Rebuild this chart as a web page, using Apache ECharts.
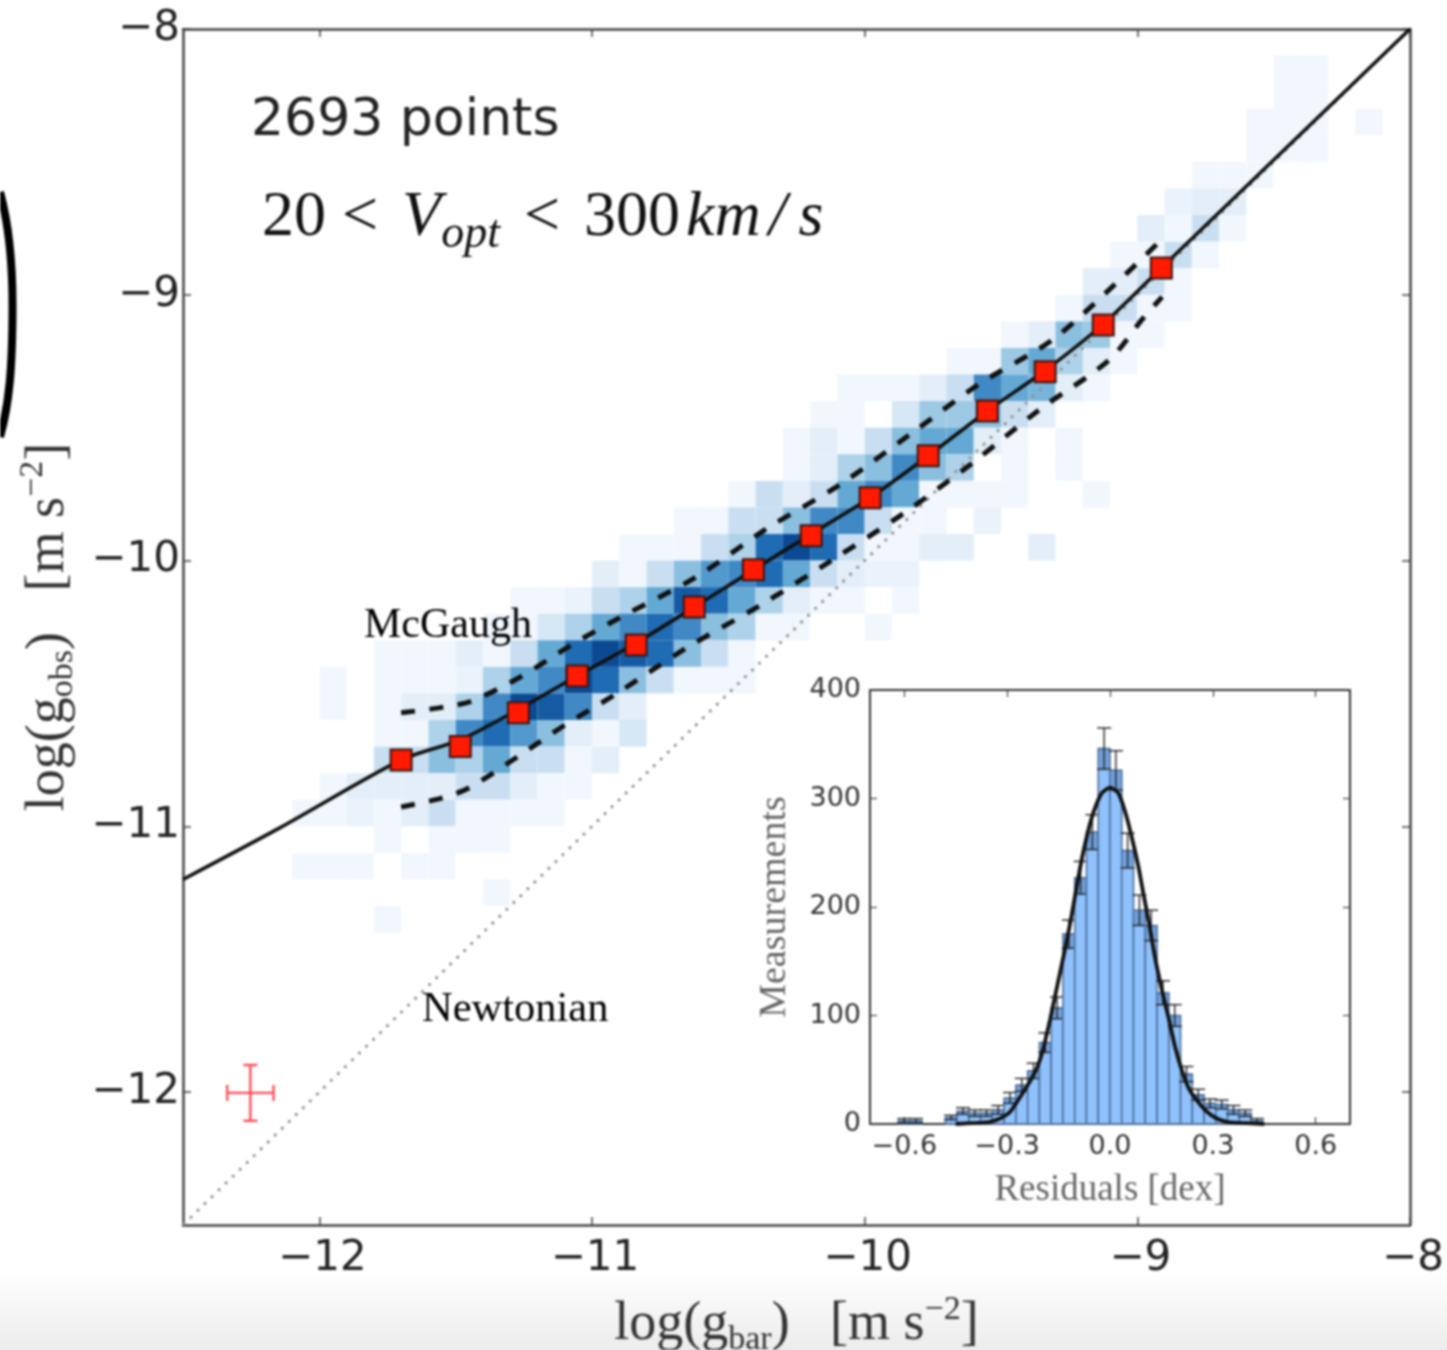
<!DOCTYPE html>
<html>
<head>
<meta charset="utf-8">
<style>
  html, body { margin: 0; padding: 0; width: 1447px; height: 1350px; overflow: hidden;
    background: linear-gradient(to bottom, #fff 0, #fff 1270px, #ececec 1350px); }
  #chart { width: 1447px; height: 1350px; filter: blur(0.8px); }
</style>
<script src="https://cdn.jsdelivr.net/npm/echarts@6/dist/echarts.min.js"></script>
</head>
<body>
<div id="chart"></div>
<script>
var mainTicks = [-12, -11, -10, -9, -8];
var insetXTicks = [-0.6, -0.3, 0, 0.3, 0.6];
var insetYTicks = [0, 100, 200, 300, 400];

// density cells, one row per 0.1 dex: [bottom of row, left of first cell, levels]
var heatRows = [
  [-8.2, -8.5, [1, 1]],
  [-8.3, -8.5, [1, 1]],
  [-8.4, -8.6, [1, 1, 1, 0, 1]],
  [-8.5, -8.6, [1, 1, 1]],
  [-8.6, -8.8, [1, 1, 1]],
  [-8.7, -8.9, [1.5, 2, 2]],
  [-8.8, -9.0, [2, 1, 3, 1]],
  [-8.9, -9.1, [1, 1, 3, 1]],
  [-9.0, -9.2, [2, 2, 3, 1]],
  [-9.1, -9.3, [1, 3, 3, 1, 1]],
  [-9.2, -9.5, [1, 2, 5, 4.5, 1, 1]],
  [-9.3, -9.7, [1, 1, 4.5, 6, 4, 2, 1]],
  [-9.4, -10.1, [1, 1, 1, 2, 3, 7, 6, 5.5, 2, 1]],
  [-9.5, -10.2, [1, 1, 0, 2.5, 4.5, 4.5, 5, 3, 2]],
  [-9.6, -10.3, [1, 2, 1, 3, 5, 6, 6, 2, 1, 0, 1]],
  [-9.7, -10.3, [1, 2, 4, 5, 7, 5, 4, 0, 1, 0, 1]],
  [-9.8, -10.5, [1, 3, 2, 3, 6, 7, 6, 1, 1, 1, 1, 0, 0, 1]],
  [-9.9, -10.7, [1, 1, 3, 3, 5, 7, 7, 3, 1, 1, 0, 1.5]],
  [-10.0, -10.9, [1, 1, 1, 3, 4, 8, 9, 8, 3, 1, 1, 2, 2, 0, 0, 2]],
  [-10.1, -11.0, [2, 1, 3, 5, 6.5, 7, 8, 6, 3, 2, 1.5, 1.5]],
  [-10.2, -11.3, [1, 1, 1.5, 3, 4, 6, 8.5, 8, 6, 4, 2, 1, 1, 0, 1]],
  [-10.3, -11.4, [1, 1, 2.5, 4, 6, 7, 8, 7, 5, 4, 1, 1, 0, 0, 1]],
  [-10.4, -11.8, [1, 1, 1, 2, 1, 3, 6, 8, 9, 8.5, 8, 5, 3, 1]],
  [-10.5, -12.0, [1, 0, 1, 1, 1, 1.5, 4, 6, 7, 9, 8, 5, 3, 1, 1, 1]],
  [-10.6, -12.0, [1, 0, 1, 2, 2, 4, 7, 9, 8.5, 7, 3, 2]],
  [-10.7, -11.8, [1, 1, 4, 7, 8, 6.5, 5, 2, 1, 2.5]],
  [-10.8, -11.8, [3, 3, 5, 4, 6, 3, 3, 1, 2]],
  [-10.9, -12.0, [1, 2, 2, 2, 2, 3, 3, 2, 1, 1]],
  [-11.0, -12.1, [1, 1, 1.5, 1, 2, 3, 1, 1, 1, 1]],
  [-11.1, -11.8, [1, 0, 1, 1, 1]],
  [-11.2, -12.1, [1, 1, 1, 0, 1, 1]],
  [-11.3, -11.4, [1]],
  [-11.4, -11.8, [1]]
];
var heatPalette = ['#ffffff', '#f1f7fd', '#e3eef8', '#c9dff1', '#aed2e9', '#8bbfdf', '#64a9d4', '#4089c5', '#1f6cb4', '#0b4a93'];

var binnedX = [-11.70, -11.483, -11.27, -11.054, -10.838, -10.625, -10.408, -10.196, -9.98, -9.767, -9.55, -9.338, -9.125, -8.912];
var binnedY = [-10.75, -10.70, -10.573, -10.434, -10.318, -10.175, -10.035, -9.907, -9.764, -9.606, -9.437, -9.29, -9.114, -8.899];

var relationX = [-12.5, -12.147, -11.70, -11.483, -11.27, -11.054, -10.838, -10.625, -10.408, -10.196, -9.98, -9.767, -9.55, -9.338, -9.125, -8.912, -8];
var relationY = [-11.2, -11.007, -10.75, -10.675, -10.56, -10.434, -10.31, -10.175, -10.035, -9.90, -9.764, -9.606, -9.437, -9.285, -9.11, -8.899, -8];

var upperX = [-11.70, -11.542, -11.439, -11.256, -11.076, -10.90, -10.618, -10.361, -10.093, -9.836, -9.58, -9.312, -9.077, -8.92];
var upperY = [-10.573, -10.551, -10.528, -10.434, -10.318, -10.216, -10.062, -9.881, -9.716, -9.527, -9.336, -9.170, -8.956, -8.801];
var lowerX = [-11.70, -11.549, -11.45, -11.274, -11.098, -10.918, -10.654, -10.387, -10.119, -9.855, -9.605, -9.36, -9.103, -8.978, -8.909];
var lowerY = [-10.927, -10.893, -10.855, -10.739, -10.618, -10.506, -10.329, -10.171, -9.998, -9.821, -9.633, -9.433, -9.245, -9.087, -9.008];

var newtonX = [-12.5, -8];
var newtonY = [-12.5, -8];
var errorCross = [-12.253, -12.003, 0.085, 0.105];

// inset histogram
var binLeft = [-0.6174, -0.5831, -0.4802, -0.4459, -0.4116, -0.3773, -0.343, -0.3087, -0.2744, -0.2401, -0.2058, -0.1715, -0.1372, -0.1029, -0.0686, -0.0343, 0, 0.0343, 0.0686, 0.1029, 0.1372, 0.1715, 0.2058, 0.2401, 0.2744, 0.3087, 0.343, 0.3773, 0.4116];
var binCount = [3, 3, 6, 12, 10, 10, 13, 24, 36, 49, 75, 107, 175, 227, 269, 346, 326, 252, 197, 183, 121, 100, 46, 27, 19, 18, 13, 10, 3];
var binError = [2, 2, 2, 3, 3, 3, 4, 5, 6, 7, 9, 10, 13, 15, 16, 19, 18, 16, 14, 14, 11, 10, 7, 5, 4, 4, 4, 3, 2];
var binWidth = 0.0343;
var fitX = [-0.45, -0.389, -0.35, -0.321, -0.292, -0.262, -0.238, -0.214, -0.194, -0.175, -0.156, -0.136, -0.115, -0.097, -0.083, -0.063, -0.044, -0.024, 0, 0.024, 0.044, 0.063, 0.083, 0.097, 0.115, 0.131, 0.151, 0.17, 0.19, 0.209, 0.228, 0.248, 0.277, 0.306, 0.34, 0.379, 0.45];
var fitY = [0, 1, 2, 5, 11, 25, 37, 51, 70, 96, 124, 154, 187, 219, 243, 271, 291, 305, 310, 305, 288, 265, 237, 213, 183, 154, 124, 99, 71, 50, 34, 24, 13, 6, 2, 1, 0];

function zip(a, b) {
  return a.map(function (v, i) { return [v, b[i]]; });
}

var heatCells = [];
heatRows.forEach(function (row) {
  row[2].forEach(function (level, i) {
    if (level > 0) heatCells.push([Math.round((row[1] + i * 0.1) * 10) / 10, row[0], level]);
  });
});

var serif = '"Liberation Serif", serif';
var sans = '"DejaVu Sans", sans-serif';

function minus(v) {
  return String(v).replace('-', '\u2212');
}
function minusFixed(v) {
  return v.toFixed(1).replace('-', '\u2212');
}

function titleRich() {
  return {
    a: { fontFamily: serif, fontSize: 54, color: '#333', lineHeight: 64, verticalAlign: 'middle' },
    sub: { fontFamily: serif, fontSize: 34, color: '#333', lineHeight: 34, verticalAlign: 'bottom' },
    sup: { fontFamily: serif, fontSize: 34, color: '#333', lineHeight: 34, verticalAlign: 'top' }
  };
}

function mainAxis(position, ticks, showLabel, name) {
  var ax = {
    type: 'value',
    gridIndex: 0,
    position: position,
    min: -12.5,
    max: -8,
    splitLine: { show: false },
    axisLine: { onZero: false, lineStyle: { color: '#444', width: 2.5 } },
    axisTick: { inside: true, length: 8, customValues: ticks, lineStyle: { color: '#444', width: 1.5 } },
    axisLabel: {
      show: showLabel,
      customValues: ticks,
      formatter: minus,
      fontFamily: sans,
      fontSize: 42,
      color: '#222',
      margin: position === 'left' ? 3 : 13,
      padding: position === 'left' ? 0 : [0, 0, 0, 6]
    }
  };
  if (name) {
    ax.name = name;
    ax.nameLocation = 'middle';
    ax.nameTextStyle = { rich: titleRich() };
  }
  return ax;
}

function insetAxis(position, min, max, ticks, showLabel, fmt, name) {
  var ax = {
    type: 'value',
    gridIndex: 1,
    position: position,
    min: min,
    max: max,
    splitLine: { show: false },
    axisLine: { onZero: false, lineStyle: { color: '#333', width: 2 } },
    axisTick: { inside: true, length: 7, customValues: ticks, lineStyle: { color: '#444', width: 1.2 } },
    axisLabel: {
      show: showLabel,
      customValues: ticks,
      formatter: fmt,
      fontFamily: sans,
      fontSize: 27,
      color: '#333',
      margin: 9
    }
  };
  if (name) {
    ax.name = name;
    ax.nameLocation = 'middle';
    ax.nameTextStyle = { fontFamily: serif, fontSize: 37, color: '#666' };
  }
  return ax;
}

var xMain = mainAxis('bottom', mainTicks, true, '{a|log(g}{sub|bar}{a|)   [m s}{sup|\u22122}{a|]}');
xMain.nameGap = 68;
var yMain = mainAxis('left', mainTicks, true, '{a|log(g}{sub|obs}{a|)   [m s}{sup|\u22122}{a|]}');
yMain.nameGap = 98;
var xInset = insetAxis('bottom', -0.7, 0.7, insetXTicks, true, minusFixed, 'Residuals [dex]');
xInset.nameGap = 48;
var yInset = insetAxis('left', 0, 400, insetYTicks, true, String, 'Measurements');
yInset.nameGap = 76;
yInset.nameTextStyle.fontSize = 38;

var option = {
  backgroundColor: 'transparent',
  animation: false,
  grid: [
    { left: 183, top: 29, width: 1227, height: 1196, outerBoundsMode: 'none' },
    { left: 870, top: 690, width: 480, height: 434, outerBoundsMode: 'none' }
  ],
  xAxis: [
    xMain,
    mainAxis('top', mainTicks, false),
    xInset,
    insetAxis('top', -0.7, 0.7, insetXTicks, false)
  ],
  yAxis: [
    yMain,
    mainAxis('right', mainTicks, false),
    yInset,
    insetAxis('right', 0, 400, insetYTicks, false)
  ],
  visualMap: {
    show: false,
    seriesIndex: 0,
    dimension: 2,
    min: 0,
    max: 9,
    inRange: { color: heatPalette }
  },
  series: [
    {
      type: 'custom',
      xAxisIndex: 0,
      yAxisIndex: 0,
      z: 1,
      data: heatCells,
      encode: { x: 0, y: 1 },
      renderItem: function (params, api) {
        var a = api.coord([api.value(0), api.value(1)]);
        var b = api.coord([api.value(0) + 0.1, api.value(1) + 0.1]);
        return {
          type: 'rect',
          shape: { x: a[0], y: b[1], width: b[0] - a[0], height: a[1] - b[1] },
          style: { fill: api.visual('color') }
        };
      }
    },
    {
      type: 'line',
      xAxisIndex: 0,
      yAxisIndex: 0,
      z: 2,
      symbol: 'none',
      data: zip(newtonX, newtonY),
      lineStyle: { color: '#8f8f8f', width: 2.8, type: [2.8, 7] }
    },
    {
      type: 'line',
      xAxisIndex: 0,
      yAxisIndex: 0,
      z: 3,
      symbol: 'none',
      smooth: 0.25,
      data: zip(relationX, relationY),
      lineStyle: { color: '#111', width: 3.6 }
    },
    {
      type: 'line',
      xAxisIndex: 0,
      yAxisIndex: 0,
      z: 3,
      symbol: 'none',
      smooth: 0.3,
      data: zip(upperX, upperY),
      lineStyle: { color: '#111', width: 5, type: [14, 14.5] }
    },
    {
      type: 'line',
      xAxisIndex: 0,
      yAxisIndex: 0,
      z: 3,
      symbol: 'none',
      smooth: 0.3,
      data: zip(lowerX, lowerY),
      lineStyle: { color: '#111', width: 5, type: [14, 14.5] }
    },
    {
      type: 'scatter',
      xAxisIndex: 0,
      yAxisIndex: 0,
      z: 4,
      symbol: 'rect',
      symbolSize: 21,
      data: zip(binnedX, binnedY),
      itemStyle: { color: '#ff1a00', borderColor: '#3a1410', borderWidth: 2, opacity: 1 }
    },
    {
      // error cross, bottom left
      type: 'custom',
      xAxisIndex: 0,
      yAxisIndex: 0,
      z: 4,
      data: [errorCross],
      renderItem: function (params, api) {
        var x = api.value(0), y = api.value(1), dx = api.value(2), dy = api.value(3);
        var c = api.coord([x, y]), l = api.coord([x - dx, y]), r = api.coord([x + dx, y]);
        var t = api.coord([x, y + dy]), b = api.coord([x, y - dy]);
        var st = { stroke: '#ff4d57', lineWidth: 2.4 };
        function seg(x1, y1, x2, y2) {
          return { type: 'line', shape: { x1: x1, y1: y1, x2: x2, y2: y2 }, style: st };
        }
        return {
          type: 'group',
          children: [
            seg(l[0], c[1], r[0], c[1]),
            seg(c[0], t[1], c[0], b[1]),
            seg(l[0], c[1] - 8, l[0], c[1] + 8),
            seg(r[0], c[1] - 8, r[0], c[1] + 8),
            seg(c[0] - 7, t[1], c[0] + 7, t[1]),
            seg(c[0] - 7, b[1], c[0] + 7, b[1])
          ]
        };
      }
    },
    {
      // histogram bars with error bars
      type: 'custom',
      xAxisIndex: 2,
      yAxisIndex: 2,
      z: 5,
      data: binLeft.map(function (v, i) { return [v, binCount[i], binError[i]]; }),
      encode: { x: 0, y: 1 },
      renderItem: function (params, api) {
        var x0 = api.value(0), n = api.value(1), e = api.value(2);
        var base = api.coord([x0, 0]);
        var top = api.coord([x0 + binWidth, n]);
        var lo = api.coord([x0 + binWidth / 2, Math.max(n - e, 0)]);
        var hi = api.coord([x0 + binWidth / 2, n + e]);
        var w = top[0] - base[0];
        return {
          type: 'group',
          children: [
            {
              type: 'rect',
              shape: { x: base[0], y: top[1], width: w, height: base[1] - top[1] },
              style: { fill: '#8fc1fd', stroke: '#4d6f99', lineWidth: 1.6 }
            },
            {
              type: 'rect',
              shape: { x: base[0] + 1, y: top[1], width: w - 2, height: lo[1] - top[1] },
              style: { fill: 'rgba(45,90,150,0.3)' }
            },
            {
              type: 'line',
              shape: { x1: lo[0], y1: lo[1], x2: lo[0], y2: hi[1] },
              style: { stroke: '#222', lineWidth: 1.4 }
            },
            {
              type: 'line',
              shape: { x1: lo[0] - 7, y1: lo[1], x2: lo[0] + 7, y2: lo[1] },
              style: { stroke: '#222', lineWidth: 1.4 }
            },
            {
              type: 'line',
              shape: { x1: lo[0] - 7, y1: hi[1], x2: lo[0] + 7, y2: hi[1] },
              style: { stroke: '#222', lineWidth: 1.4 }
            }
          ]
        };
      }
    },
    {
      type: 'line',
      xAxisIndex: 2,
      yAxisIndex: 2,
      z: 6,
      symbol: 'none',
      smooth: 0.2,
      data: zip(fitX, fitY),
      lineStyle: { color: '#111', width: 3.8 }
    }
  ],
  graphic: [
    {
      type: 'text',
      z: 50,
      left: 251,
      top: 95,
      style: { text: '2693 points', font: '52px ' + sans, fill: '#222' }
    },
    {
      type: 'text',
      z: 50,
      left: 262,
      top: 186,
      style: {
        text: '{n|20}{lt1|<}{i|V}{s|opt}{lt2|<}{n|300}{km|km}{sl|/}{i|s}',
        rich: {
          n: { fontFamily: serif, fontSize: 64, fill: '#111', lineHeight: 80, verticalAlign: 'middle' },
          i: { fontFamily: serif, fontStyle: 'italic', fontSize: 64, fill: '#111', lineHeight: 80, verticalAlign: 'middle' },
          km: { fontFamily: serif, fontStyle: 'italic', fontSize: 64, fill: '#111', lineHeight: 80, verticalAlign: 'middle', padding: [0, 0, 0, 6] },
          sl: { fontFamily: serif, fontStyle: 'italic', fontSize: 64, fill: '#111', lineHeight: 80, verticalAlign: 'middle', padding: [0, 12, 0, 8] },
          lt1: { fontFamily: serif, fontSize: 64, fill: '#111', lineHeight: 80, verticalAlign: 'middle', padding: [0, 24, 0, 16] },
          lt2: { fontFamily: serif, fontSize: 64, fill: '#111', lineHeight: 80, verticalAlign: 'middle', padding: [0, 24, 0, 24] },
          s: { fontFamily: serif, fontStyle: 'italic', fontSize: 46, fill: '#111', lineHeight: 46, verticalAlign: 'bottom' }
        }
      }
    },
    {
      type: 'text',
      z: 50,
      left: 364,
      top: 605,
      style: { text: 'McGaugh', font: '42px ' + serif, fill: '#000' }
    },
    {
      type: 'text',
      z: 50,
      left: 422,
      top: 988,
      style: { text: 'Newtonian', font: '42.5px ' + serif, fill: '#000' }
    },
    {
      // edge of a neighbouring figure, cropped at the left
      type: 'bezierCurve',
      shape: { x1: 0, y1: 192, cpx1: 9, cpy1: 225, cpx2: 12.5, cpy2: 265, x2: 12.5, y2: 305 },
      style: { fill: null, stroke: '#000', lineWidth: 8 }
    },
    {
      type: 'bezierCurve',
      shape: { x1: 12.5, y1: 305, cpx1: 12.5, cpy1: 370, cpx2: 9, cpy2: 405, x2: 0, y2: 437 },
      style: { fill: null, stroke: '#000', lineWidth: 8 }
    }
  ]
};

var chart = echarts.init(document.getElementById('chart'));
chart.setOption(option);
</script>
</body>
</html>
